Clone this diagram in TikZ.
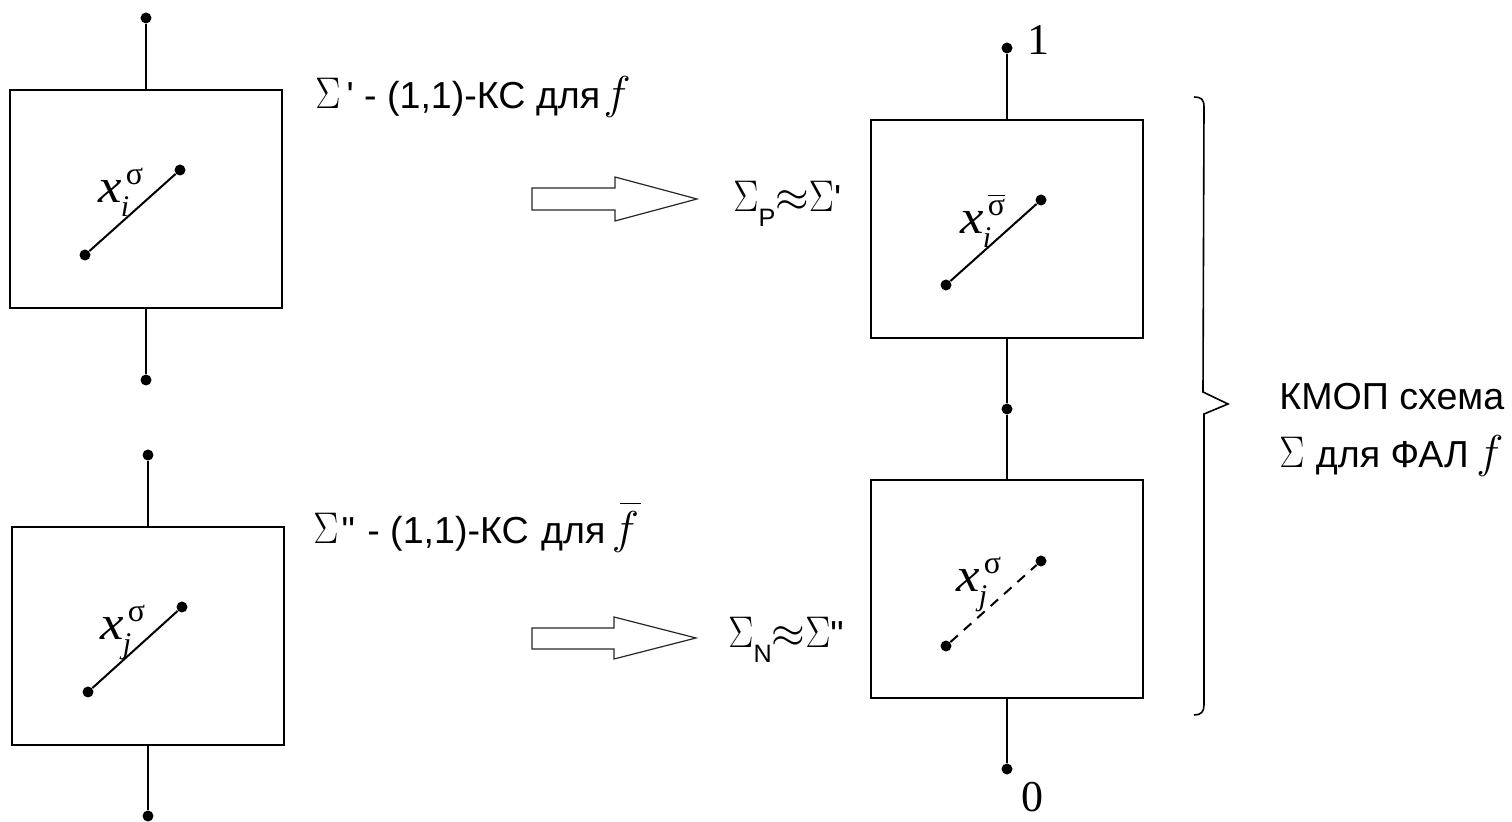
\documentclass[tikz,border=0pt]{standalone}
\usepackage{fix-cm}
\usepackage[no-math]{fontspec}
\usepackage{amsmath}
\setmainfont{Liberation Sans}[Ligatures=TeXOff]
\newfontfamily\digitfont{Liberation Serif}
\newcommand{\Sg}{\scalebox{1}[1.18]{$\Sigma$}}
\newcommand{\fsym}{{\fontsize{23}{26}\selectfont$f$}}
\newcommand{\fbar}{\rlap{\hspace{4pt}\rule[20pt]{10.5pt}{0.6pt}}\fsym}
\newcommand{\sgm}{σ}
\newcommand{\sgmbar}{\rlap{\rule[10pt]{8.8pt}{0.5pt}}σ}
\newcommand{\subtxt}[1]{\raisebox{-7.5pt}{\fontsize{12.6}{15}\selectfont #1}}
\newcommand{\apx}{\scalebox{1.15}{$\approx$}}
\newcommand{\varlab}[2]{\scalebox{1.1}[1]{\digitfont\itshape\fontsize{24}{28}\selectfont x}\hspace{-0.5pt}\rlap{\raisebox{-7pt}{\digitfont\itshape\fontsize{15}{17}\selectfont #1}}\hspace{2.5pt}\raisebox{9pt}{\digitfont\fontsize{16}{19}\selectfont #2}}
\tikzset{
    box/.style={draw,line width=1pt,minimum width=136pt,minimum height=109pt,inner sep=0pt},
    pin/.style={circle,fill=black,minimum size=5.5pt,inner sep=0pt},
    wire/.style={line width=1pt},
    label/.style={anchor=base west,inner sep=0pt,font=\fontsize{18.8}{22}\selectfont},
    varname/.style={anchor=base west,inner sep=0pt},
    digit/.style={inner sep=0pt,font=\digitfont\fontsize{22}{26}\selectfont},
    outline/.style={draw=black!85,line width=0.6pt}
}
\begin{document}
\begin{tikzpicture}[x=0.5pt,y=-0.5pt]
    \useasboundingbox (0,0) rectangle (1512,822);
    % Left boxes
    \node[box] (boxA) at (146,199) {};
    \node[box] (boxB) at (148,636) {};
    \node[pin] (topA) at (146,18) {};
    \node[pin] (botA) at (146,380) {};
    \node[pin] (topB) at (148,455) {};
    \node[pin] (botB) at (148,816) {};
    \draw[wire] (topA) -- (boxA); % top wire
    \draw[wire] (boxA) -- (botA); % bottom wire
    \draw[wire] (topB) -- (boxB); % top wire
    \draw[wire] (boxB) -- (botB); % bottom wire
    % Right boxes
    \node[box] (boxP) at (1007,229) {};
    \node[box] (boxN) at (1007,589.5) {};
    \node[pin] (topP) at (1007,48) {};
    \node[pin] (midP) at (1007,409) {};
    \node[pin] (botN) at (1007,769) {};
    \draw[wire] (topP) -- (boxP);
    \draw[wire] (boxP) -- (midP);
    \draw[wire] (midP) -- (boxN);
    \draw[wire] (boxN) -- (botN);
    % Contacts inside the boxes
    \node[pin] (a1) at (85,255) {};
    \node[pin] (a2) at (180,170) {};
    \node[pin] (b1) at (88,692) {};
    \node[pin] (b2) at (182,607) {};
    \node[pin] (p1) at (946,285) {};
    \node[pin] (p2) at (1041,200) {};
    \node[pin] (n1) at (946,646) {};
    \node[pin] (n2) at (1041,561) {};
    \draw[wire] (a1) -- (a2);
    \draw[wire] (b1) -- (b2);
    \draw[wire] (p1) -- (p2);
    \draw[wire,dash pattern=on 5pt off 4pt] (n1) -- (n2);
    \node[varname] (labA) at (98,203) {\varlab{i}{\sgm}};
    \node[varname] (labB) at (100,640) {\varlab{j}{\sgm}};
    \node[varname] (labP) at (960,234) {\varlab{i}{\sgmbar}};
    \node[varname] (labN) at (956,592) {\varlab{j}{\sgm}};
    % Hollow arrows
    \draw[outline] (532,188) -- (615,188) -- (615,177) -- (697,199) -- (615,221) -- (615,210) -- (532,210) -- cycle;
    \draw[outline] (532,628) -- (614,628) -- (614,617) -- (696,638) -- (614,659) -- (614,649) -- (532,649) -- cycle;
    % Brace
    \coordinate (braceTop) at (1194,97);
    \coordinate (braceTip) at (1228,404);
    \coordinate (braceBot) at (1194,715);
    \draw[line width=0.8pt] (braceTop) .. controls (1201,97) and (1204,99) .. (1204,107) -- (1203,392) -- (braceTip) -- (1204,414) -- (1204,705) .. controls (1204,712) and (1201,715) .. (braceBot);
    % Labels
    \node[label] (txtA) at (315,109) {\Sg\hspace{3pt}' - (1,1)-КС для\hspace{-3.5pt} \fsym};
    \node[label] (txtB) at (313,544) {\Sg\hspace{1.5pt}"\hspace{1pt} - (1,1)-КС\hspace{1pt} для\hspace{-2pt} \fbar};
    \node[label] (txtP) at (733,212) {\Sg\subtxt{P}\apx\Sg'};
    \node[label] (txtN) at (728,648) {\Sg\subtxt{N}\apx\Sg"};
    \node[label] (txtK) at (1279,410) {КМОП схема};
    \node[label] (txtS) at (1279,468) {\Sg\hspace{0.5pt} для ФАЛ\hspace{-1.5pt} \fsym};
    \node[digit] (one) at (1038,40) {1};
    \node[digit] (zero) at (1032,797) {0};
\end{tikzpicture}
\end{document}
